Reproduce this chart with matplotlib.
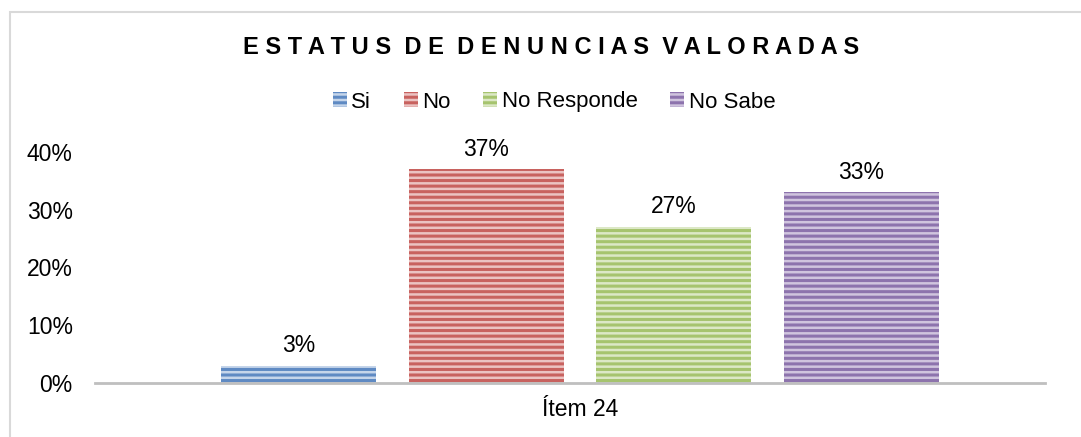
import matplotlib.pyplot as plt
from matplotlib.patches import Rectangle

plt.rcParams['font.family'] = ['Liberation Sans', 'DejaVu Sans']
plt.rcParams['hatch.linewidth'] = 2.2

categories = ["Si", "No", "No Responde", "No Sabe"]
values = [3, 37, 27, 33]
labels = ["3%", "37%", "27%", "33%"]
yticks = [0, 10, 20, 30, 40]
x_label = "Ítem 24"
title = "ESTATUS DE DENUNCIAS VALORADAS"

face = ["#c5d5ea", "#ebc3c2", "#dce8c6", "#d0c4de"]
edge = ["#5f8ac3", "#c8625f", "#a6c46e", "#8d73ad"]

W, H = 1081, 437
fig = plt.figure(figsize=(W / 100, H / 100), dpi=100)

# chart frame (right and bottom edges fall outside the image)
fig.patches.append(Rectangle((10 / W, -0.1), 1.2, 1.1 - 12 / H, transform=fig.transFigure,
                             fill=False, edgecolor="#d9d9d9", linewidth=1.5))

ax = fig.add_axes([95 / W, (H - 383) / H, (1045 - 95) / W, (383 - 152) / H])

for i in range(len(values)):
    ax.bar(i, values[i], width=0.827, color=face[i], edgecolor=edge[i],
           hatch="---", linewidth=0, label=categories[i])
    ax.text(i, values[i] + 1.5, labels[i], ha="center", va="bottom", fontsize=16.5)

ax.set_xlim(-1.085, 3.98)
ax.set_ylim(0, 40)
ax.set_yticks(yticks)
ax.set_yticklabels([f"{t}%" for t in yticks], fontsize=16.5)
ax.set_xticks([])
for s in ["top", "right", "left"]:
    ax.spines[s].set_visible(False)
ax.spines["bottom"].set_color("#bfbfbf")
ax.spines["bottom"].set_linewidth(2)
ax.tick_params(axis="y", length=0, pad=16)

fig.text(580 / W, (H - 410) / H, x_label, ha="center", va="center", fontsize=16.5)

spaced = "  ".join(" ".join(w) for w in title.split())
fig.text(551 / W, (H - 47) / H, spaced, ha="center", va="center",
         fontsize=17, fontweight="bold")

leg = fig.legend(loc="center", bbox_to_anchor=(554 / W, (H - 102) / H), ncol=4,
                 frameon=False, fontsize=16, handlelength=0.65, handleheight=0.65,
                 handletextpad=0.2, columnspacing=1.45)

fig.savefig("out.png", dpi=100)
